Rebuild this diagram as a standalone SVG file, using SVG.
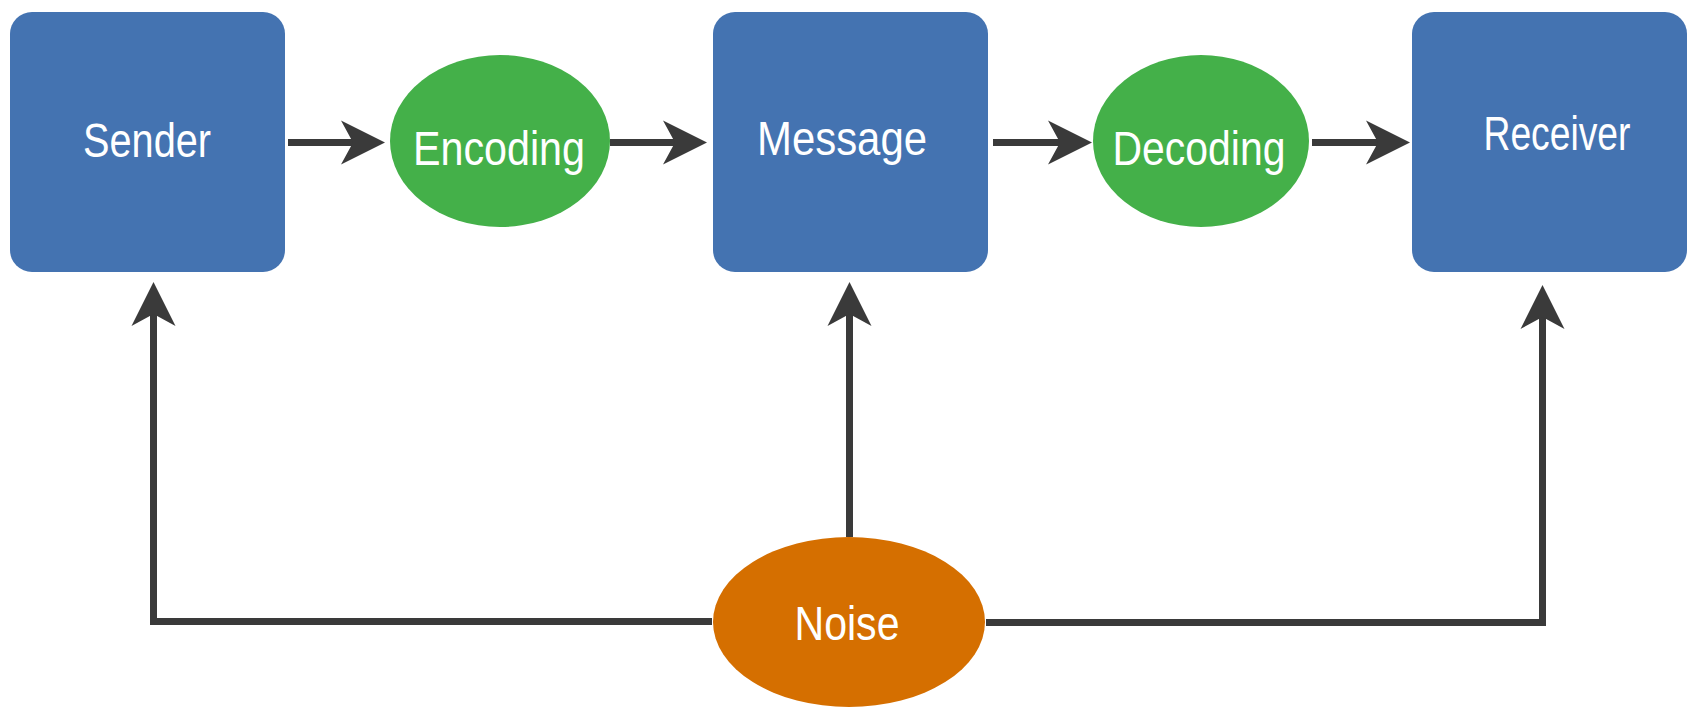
<svg xmlns="http://www.w3.org/2000/svg" width="1688" height="710" viewBox="0 0 1688 710">
  <style>
    .box { fill: #4473B1; }
    .green { fill: #44B049; }
    .orange { fill: #D56F00; }
    .lbl { font-family: "Liberation Sans", Arial, sans-serif; font-size: 48px; fill: #FFFFFF; text-anchor: middle; }
    .conn { fill: none; stroke: #3A3A3A; stroke-width: 7; }
  </style>
  <defs>
    <marker id="arr" markerUnits="userSpaceOnUse" markerWidth="50" markerHeight="50" viewBox="0 -25 50 50" refX="12" refY="0" orient="auto" overflow="visible">
      <path d="M0,-22 L44,0 L0,22 L12,0 Z" fill="#3A3A3A" stroke="none"/>
    </marker>
  </defs>
  <rect width="1688" height="710" fill="#FFFFFF"/>

  <g id="connectors">
    <line class="conn" x1="288" y1="142.5" x2="353" y2="142.5" marker-end="url(#arr)"/>
    <line class="conn" x1="610" y1="142.5" x2="675" y2="142.5" marker-end="url(#arr)"/>
    <line class="conn" x1="993" y1="142.5" x2="1060" y2="142.5" marker-end="url(#arr)"/>
    <line class="conn" x1="1312" y1="142.5" x2="1378" y2="142.5" marker-end="url(#arr)"/>
    <polyline class="conn" points="712,621.5 153.5,621.5 153.5,314" marker-end="url(#arr)"/>
    <line class="conn" x1="849.5" y1="537" x2="849.5" y2="314" marker-end="url(#arr)"/>
    <polyline class="conn" points="986,622.5 1542.5,622.5 1542.5,317" marker-end="url(#arr)"/>
  </g>

  <g id="sender">
    <rect class="box" x="10" y="12" width="275" height="260" rx="22"/>
    <text class="lbl" x="147" y="157" textLength="128" lengthAdjust="spacingAndGlyphs">Sender</text>
  </g>
  <g id="encoding">
    <ellipse class="green" cx="500" cy="141" rx="110" ry="86"/>
    <text class="lbl" x="499" y="165" textLength="172" lengthAdjust="spacingAndGlyphs">Encoding</text>
  </g>
  <g id="message">
    <rect class="box" x="713" y="12" width="275" height="260" rx="22"/>
    <text class="lbl" x="842" y="155" textLength="170" lengthAdjust="spacingAndGlyphs">Message</text>
  </g>
  <g id="decoding">
    <ellipse class="green" cx="1201" cy="141" rx="108" ry="86"/>
    <text class="lbl" x="1199" y="165" textLength="173" lengthAdjust="spacingAndGlyphs">Decoding</text>
  </g>
  <g id="receiver">
    <rect class="box" x="1412" y="12" width="275" height="260" rx="22"/>
    <text class="lbl" x="1557" y="150" textLength="147" lengthAdjust="spacingAndGlyphs">Receiver</text>
  </g>
  <g id="noise">
    <ellipse class="orange" cx="849" cy="622" rx="136" ry="85"/>
    <text class="lbl" x="847" y="640" textLength="105" lengthAdjust="spacingAndGlyphs">Noise</text>
  </g>
</svg>
